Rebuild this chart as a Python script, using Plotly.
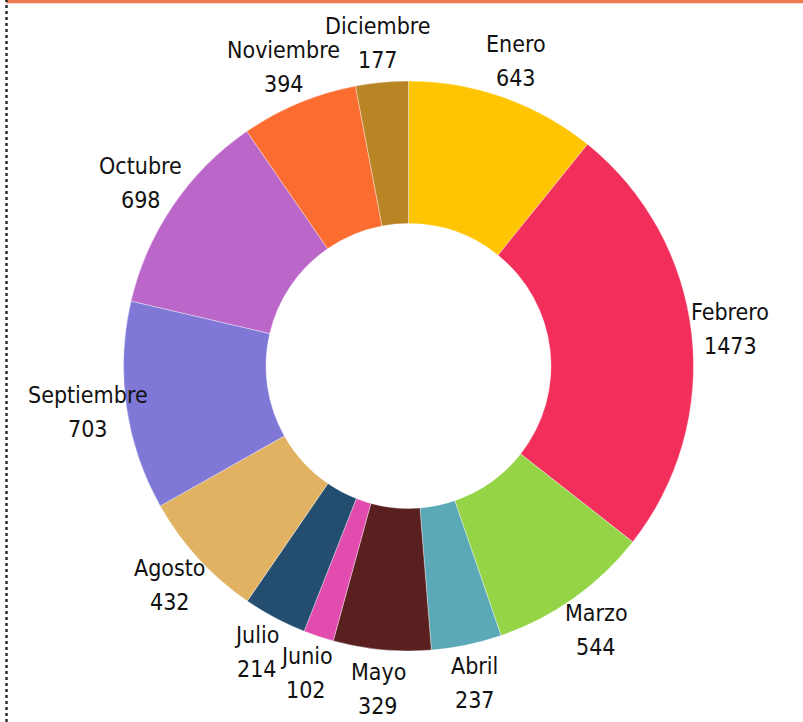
import math
import plotly.graph_objects as go

months = ["Enero", "Febrero", "Marzo", "Abril", "Mayo", "Junio", "Julio",
          "Agosto", "Septiembre", "Octubre", "Noviembre", "Diciembre"]
values = [643, 1473, 544, 237, 329, 102, 214, 432, 703, 698, 394, 177]
colors = ["#FFC502", "#F22E5B", "#96D447", "#5BA8B6", "#5A2020", "#E14CAE",
          "#234E70", "#E0B262", "#8078D7", "#BB67C9", "#FB6C30", "#B88424"]

W, H = 803, 722
cx, cy, r = 408.5, 366, 285
label_r = 324
FONT = dict(family="DejaVu Sans Condensed, sans-serif", size=23, color="#111111")

fig = go.Figure(go.Pie(
    labels=months, values=values, sort=False, direction="clockwise",
    rotation=0, hole=0.5, automargin=False,
    marker=dict(colors=colors, line=dict(width=0.6, color="rgba(255,255,255,0.6)")),
    textinfo="none",
    domain=dict(x=[(cx - r) / W, (cx + r) / W], y=[1 - (cy + r) / H, 1 - (cy - r) / H]),
    showlegend=False, hoverinfo="label+value",
))

# labels placed outside each slice at its mid-angle (derived from the values)
total = sum(values)
annotations = []
cum = 0
for name, v in zip(months, values):
    mid = (cum + v / 2) / total * 2 * math.pi
    cum += v
    px = cx + label_r * math.sin(mid)
    py = cy - label_r * math.cos(mid)
    for txt, shift in ((name, 17), (str(v), -17)):
        annotations.append(dict(
            x=px / W, y=1 - py / H, xref="paper", yref="paper",
            text=txt, showarrow=False, font=FONT,
            xanchor="center", yanchor="middle", yshift=shift,
        ))

fig.update_layout(
    width=W, height=H, margin=dict(l=0, r=0, t=0, b=0, autoexpand=False),
    paper_bgcolor="white",
    annotations=annotations,
    shapes=[
        dict(type="line", xref="paper", yref="paper", x0=6 / W, x1=1, y0=1 - 1.5 / H, y1=1 - 1.5 / H,
             line=dict(color="#F07850", width=3.5)),
        dict(type="line", xref="paper", yref="paper", x0=6.5 / W, x1=6.5 / W, y0=0, y1=1,
             line=dict(color="#2A3036", width=2.5, dash="dot")),
    ],
)

fig.write_html("out.html", config={"displayModeBar": False},
               post_script="document.body.style.margin='0';")
